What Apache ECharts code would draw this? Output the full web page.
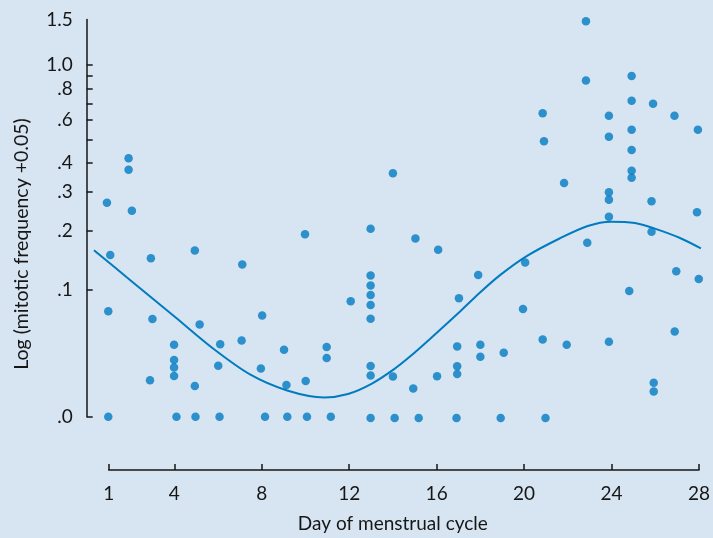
<!DOCTYPE html>
<html>
<head>
<meta charset="utf-8">
<script src="https://cdn.jsdelivr.net/npm/echarts@6/dist/echarts.min.js"></script>
<style>
html,body{margin:0;padding:0;background:#d7e5f2;}
#chart{width:713px;height:538px;}
</style>
</head>
<body>
<div id="chart"></div>
<script>
// Day of cycle for each observation (as plotted, with small horizontal jitter)
var days = [
  0.92, 1.07, 0.98, 0.98,
  1.91, 1.91, 2.06,
  2.93, 3.00, 2.89,
  3.99, 3.99, 3.99, 3.99, 4.10,
  4.94, 5.16, 4.94, 4.97,
  6.10, 6.01, 6.07,
  7.11, 7.08,
  8.02, 7.96, 8.15,
  9.02, 9.13, 9.17,
  9.98, 10.01, 10.07,
  10.97, 10.97, 11.16,
  12.07,
  12.98, 12.98, 12.98, 12.98, 12.98, 12.98, 12.98, 12.98, 12.98,
  14.00, 14.00, 14.08,
  15.03, 14.93, 15.18,
  16.07, 16.02,
  17.02, 16.94, 16.94, 16.94, 16.91,
  17.90, 18.00, 18.00,
  19.07, 18.93,
  20.05, 19.95,
  20.85, 20.91, 20.85, 20.98,
  21.83, 21.95,
  22.83, 22.83, 22.89,
  23.88, 23.88, 23.88, 23.88, 23.88, 23.88,
  24.92, 24.92, 24.92, 24.92, 24.92, 24.92, 24.81,
  25.90, 25.83, 25.83, 25.93, 25.93,
  26.88, 26.96, 26.89,
  27.95, 27.91, 27.99
];
// log10(mitotic frequency + 0.05) for each observation
var logFreq = [
  -0.498, -0.694, -0.905, -1.301,
  -0.331, -0.374, -0.528,
  -0.706, -0.934, -1.164,
  -1.031, -1.088, -1.116, -1.148, -1.301,
  -0.677, -0.955, -1.186, -1.301,
  -1.029, -1.110, -1.301,
  -0.730, -1.015,
  -0.921, -1.120, -1.301,
  -1.050, -1.182, -1.301,
  -0.616, -1.167, -1.301,
  -1.039, -1.081, -1.301,
  -0.868,
  -0.595, -0.771, -0.808, -0.844, -0.882, -0.933, -1.111, -1.146, -1.306,
  -0.387, -1.150, -1.306,
  -0.632, -1.195, -1.306,
  -0.674, -1.149,
  -0.856, -1.037, -1.112, -1.141, -1.306,
  -0.769, -1.031, -1.076,
  -1.061, -1.306,
  -0.722, -0.897,
  -0.162, -0.267, -1.011, -1.306,
  -0.424, -1.031,
  0.184, -0.039, -0.648,
  -0.171, -0.250, -0.458, -0.486, -0.550, -1.020,
  -0.022, -0.115, -0.224, -0.300, -0.378, -0.404, -0.829,
  -0.126, -0.492, -0.607, -1.174, -1.206,
  -0.171, -0.755, -0.981,
  -0.224, -0.533, -0.784
];
// fitted trend curve
var curveDays = [0.33, 1.97, 4.02, 5.75, 7.43, 9.12, 10.80, 11.89, 12.98, 13.99, 14.71, 15.62, 16.99, 17.90, 18.81, 20.04, 21.54, 22.80, 23.86, 24.95, 25.82, 27.00, 27.95];
var curveLog  = [-0.674, -0.785, -0.924, -1.042, -1.139, -1.199, -1.225, -1.212, -1.173, -1.119, -1.072, -1.006, -0.903, -0.832, -0.767, -0.695, -0.629, -0.583, -0.567, -0.572, -0.592, -0.628, -0.667];

// tick labels (frequency values shown on the log scale)
var yTickLabels = ['.0', '.1', '.2', '.3', '.4', '.6', '.8', '1.0', '1.5'];
var yTickFreqs = [0, 0.1, 0.2, 0.3, 0.4, 0.6, 0.8, 1.0, 1.5];
var yTickMarkFreqs = [0, 0.1, 0.2, 0.3, 0.4, 0.5, 0.6, 0.7, 0.8, 0.9, 1.0];
var xTicks = [1, 4, 8, 12, 16, 20, 24, 28];
var xTickLabels = ['1', '4', '8', '12', '16', '20', '24', '28'];

var OFFSET = 0.05;
function tr(f) { return Math.log10(f + OFFSET); }

var points = days.map(function (d, i) { return [d, logFreq[i]]; });
var curve = curveDays.map(function (d, i) { return [d, curveLog[i]]; });
var yLabelVals = yTickFreqs.map(tr);
var yTickVals = yTickMarkFreqs.map(tr);

var FONT = 'Lato, "Open Sans", sans-serif';
var BLUE = '#007bc0';
var INK = '#161616';

var PX_PER_DAY = (702 - 108.7) / 27;
var YMIN = tr(0), YMAX = tr(1.5);

var chart = echarts.init(document.getElementById('chart'));
chart.setOption({
  backgroundColor: '#d7e5f2',
  animation: false,
  grid: [
    { left: 108.7, right: 11, top: 19.5, bottom: 120.3, containLabel: false },
    // same scale, extended one day to the left so the trend curve can start before day 1
    { left: 108.7 - PX_PER_DAY, right: 11, top: 19.5, bottom: 120.3, containLabel: false }
  ],
  xAxis: [{
    type: 'value',
    gridIndex: 0,
    min: 1, max: 28,
    offset: 53.3,
    name: 'Day of menstrual cycle',
    nameLocation: 'middle',
    nameGap: 44,
    nameTextStyle: { fontFamily: FONT, fontSize: 19, color: INK, padding: [0, 22, 0, 0] },
    axisLine: { show: true, onZero: false, lineStyle: { color: INK, width: 1.5 } },
    axisTick: { show: true, inside: true, length: 6, customValues: xTicks, lineStyle: { color: INK, width: 1.5 } },
    axisLabel: {
      customValues: xTicks, margin: 14, fontFamily: FONT, fontSize: 19, color: INK,
      formatter: function (v) { var i = xTicks.indexOf(Math.round(v)); return i >= 0 ? xTickLabels[i] : ''; }
    },
    splitLine: { show: false }
  }, {
    type: 'value',
    gridIndex: 1,
    min: 0, max: 28,
    show: false
  }],
  yAxis: [{
    type: 'value',
    gridIndex: 0,
    min: YMIN, max: YMAX,
    offset: 22,
    axisLine: { show: true, onZero: false, lineStyle: { color: INK, width: 1.5 } },
    axisTick: { show: true, inside: true, length: 6, customValues: yTickVals, lineStyle: { color: INK, width: 1.5 } },
    axisLabel: {
      customValues: yLabelVals, margin: 14, fontFamily: FONT, fontSize: 19, color: INK,
      formatter: function (v) {
        var best = 0, bd = Infinity;
        for (var i = 0; i < yLabelVals.length; i++) {
          var d = Math.abs(yLabelVals[i] - v);
          if (d < bd) { bd = d; best = i; }
        }
        return yTickLabels[best];
      }
    },
    splitLine: { show: false }
  }, {
    type: 'value',
    gridIndex: 1,
    min: YMIN, max: YMAX,
    show: false
  }],
  graphic: [{
    type: 'text',
    x: 22, y: 244,
    rotation: Math.PI / 2,
    style: {
      text: 'Log (mitotic frequency +0.05)',
      font: '19.5px ' + FONT,
      fill: INK,
      textAlign: 'center',
      textVerticalAlign: 'middle'
    }
  }],
  series: [
    {
      type: 'line',
      xAxisIndex: 1,
      yAxisIndex: 1,
      data: curve,
      smooth: 0.3,
      showSymbol: false,
      symbol: 'none',
      clip: false,
      lineStyle: { color: BLUE, width: 2 },
      z: 2
    },
    {
      type: 'scatter',
      xAxisIndex: 0,
      yAxisIndex: 0,
      data: points,
      symbol: 'circle',
      symbolSize: 8.5,
      clip: false,
      itemStyle: { color: BLUE },
      z: 3
    }
  ]
});
</script>
</body>
</html>
